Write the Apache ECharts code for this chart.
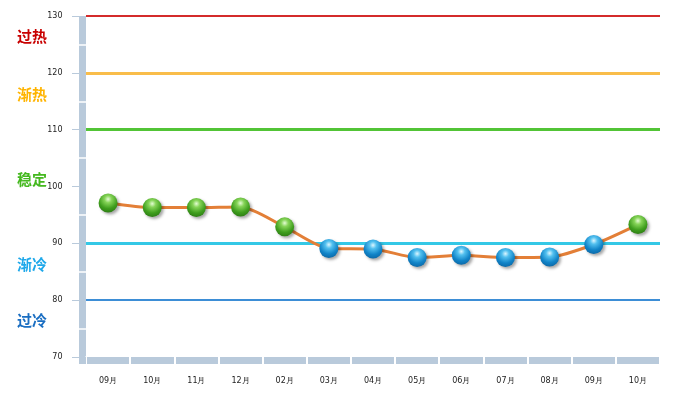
<!DOCTYPE html>
<html>
<head>
<meta charset="utf-8">
<script src="https://cdn.jsdelivr.net/npm/echarts@6/dist/echarts.min.js"></script>
<style>
  html, body { margin: 0; padding: 0; background: #fff; }
  #chart { width: 674px; height: 399px; }
</style>
</head>
<body>
<div id="chart"></div>
<script>
// 月份和数值
var months = ['09月', '10月', '11月', '12月', '02月', '03月', '04月', '05月', '06月', '07月', '08月', '09月', '10月']
var values = [97.1, 96.3, 96.3, 96.4, 92.9, 89.1, 89.0, 87.5, 87.9, 87.5, 87.6, 89.8, 93.3]
var threshold = 90

// 分界线
var levelValues = [130, 120, 110, 90, 80]
var levelColors = ['#d42b2b', '#f9bd4a', '#52c436', '#34c8e6', '#3d8ed6']

// 左侧区域文字
var zoneNames = ['过热', '渐热', '稳定', '渐冷', '过冷']
var zoneValues = [126.3, 116.2, 101.1, 86.2, 76.3]
var zoneColors = ['#c80000', '#ffb400', '#44b81e', '#1ea8ea', '#1a6ec2']

var barColor = '#b9cadb'
var tickFont = { fontFamily: 'DejaVu Sans', fontSize: 8, color: '#222' }

var greenBall = {
  type: 'radial', x: 0.5, y: 0.3, r: 0.75,
  colorStops: [
    { offset: 0, color: '#e4fcd4' },
    { offset: 0.25, color: '#86d458' },
    { offset: 0.65, color: '#3f9e1e' },
    { offset: 1, color: '#2a7812' }
  ]
}
var blueBall = {
  type: 'radial', x: 0.5, y: 0.3, r: 0.75,
  colorStops: [
    { offset: 0, color: '#dcf6ff' },
    { offset: 0.25, color: '#52c0ef' },
    { offset: 0.65, color: '#1184c8' },
    { offset: 1, color: '#0a64a2' }
  ]
}

var chart = echarts.init(document.getElementById('chart'))

var markData = levelValues.map(function (v, i) {
  return { yAxis: v, lineStyle: { color: levelColors[i], type: 'solid', width: i === 0 || i === 4 ? 2 : 3 } }
})

chart.setOption({
  animation: false,
  grid: { left: 86, right: 14, top: 16, bottom: 42 },
  xAxis: [{
    type: 'category',
    data: months,
    boundaryGap: true,
    offset: 3.5,
    axisLine: {
      lineStyle: { color: barColor, width: 7, cap: 'butt' },
      symbol: ['rect', 'none'],
      symbolSize: [7, 7],
      symbolOffset: [-3.5, 0]
    },
    axisTick: { show: true, length: 4, lineStyle: { color: '#fff', width: 2 } },
    axisLabel: Object.assign({ margin: 16 }, tickFont),
    splitLine: { show: false }
  }, {
    type: 'category',
    data: months,
    boundaryGap: true,
    position: 'bottom',
    offset: 3.5,
    axisLine: { show: false },
    axisTick: { show: true, inside: true, length: 4, lineStyle: { color: '#fff', width: 2 } },
    axisLabel: { show: false },
    splitLine: { show: false }
  }],
  yAxis: [{
    type: 'value',
    min: 70,
    max: 130,
    interval: 10,
    offset: 3.5,
    axisLine: { show: true, symbol: ['none', 'none'], lineStyle: { color: barColor, width: 7, cap: 'butt' } },
    axisTick: { show: true, length: 10.5, lineStyle: { color: barColor, width: 1 } },
    minorTick: { show: true, splitNumber: 2, length: 3.5, lineStyle: { color: '#fff', width: 1.5 } },
    axisLabel: Object.assign({ margin: 20 }, tickFont),
    splitLine: { show: false }
  }, {
    type: 'value',
    min: 70,
    max: 130,
    interval: 10,
    position: 'left',
    offset: 3.5,
    axisLine: { show: false },
    axisTick: { show: false, inside: true },
    minorTick: { show: true, splitNumber: 2, length: 4, lineStyle: { color: '#fff', width: 1.5 } },
    axisLabel: { show: false },
    splitLine: { show: false }
  }],
  series: [{
    type: 'line',
    data: values,
    smooth: 0.25,
    z: 5,
    lineStyle: { color: '#e37f37', width: 3 },
    symbol: 'circle',
    symbolSize: 19,
    itemStyle: {
      color: function (p) { return p.value >= threshold ? greenBall : blueBall },
      shadowBlur: 3,
      shadowOffsetX: 2,
      shadowOffsetY: 2,
      shadowColor: 'rgba(0,0,0,0.35)'
    },
    markLine: {
      silent: true,
      symbol: ['none', 'none'],
      label: { show: false },
      z: 1,
      data: markData
    }
  }]
})

// 区域文字按y轴位置放置
chart.setOption({
  graphic: zoneNames.map(function (name, i) {
    return {
      type: 'text',
      left: 17,
      top: chart.convertToPixel({ yAxisIndex: 0 }, zoneValues[i]) - 8,
      style: {
        text: name,
        fill: zoneColors[i],
        font: 'bold 15px "Noto Sans CJK SC"'
      }
    }
  })
})
</script>
</body>
</html>
